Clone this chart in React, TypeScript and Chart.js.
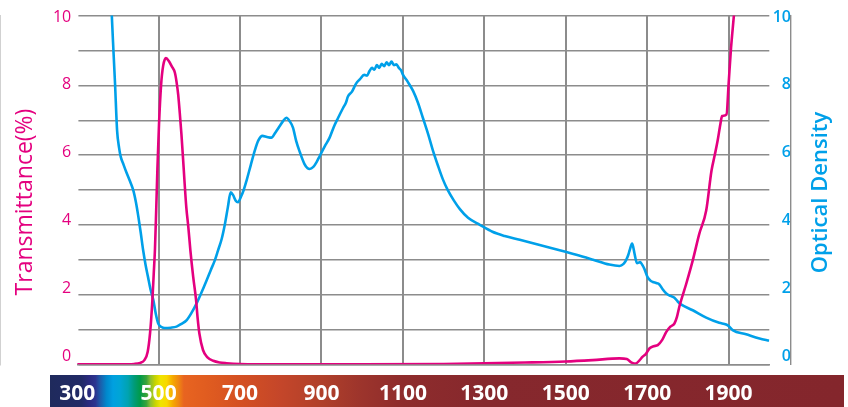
import React, { useEffect, useRef } from "react";
import { Chart, registerables } from "chart.js";

Chart.register(...registerables);

// ---- data ----
const transWavelengths = [300, 400, 440, 455, 465, 473, 479, 484, 488, 491, 494, 497, 501, 506, 511, 518, 525, 532, 540, 544, 548, 552, 556, 560, 564, 568, 573, 578, 585, 592, 596, 600, 609, 620, 634, 650, 667, 700, 800, 1000, 1200, 1400, 1500, 1566, 1632, 1650, 1662, 1672, 1680, 1689, 1697, 1706, 1716, 1726, 1737, 1747, 1757, 1767, 1773, 1779, 1796, 1812, 1828, 1845, 1858, 1866, 1873, 1880, 1884, 1895, 1900, 1906, 1913, 1920];
const transValues = [0, 0, 0.01, 0.04, 0.12, 0.35, 0.9, 1.7, 2.6, 3.3, 4.4, 5.6, 6.9, 8.0, 8.55, 8.78, 8.7, 8.55, 8.36, 8.1, 7.74, 7.2, 6.6, 5.9, 5.17, 4.5, 3.93, 3.27, 2.5, 1.84, 1.3, 0.89, 0.41, 0.2, 0.1, 0.05, 0.03, 0.01, 0, 0, 0.01, 0.05, 0.08, 0.12, 0.17, 0.15, 0.05, 0.02, 0.1, 0.22, 0.3, 0.46, 0.52, 0.55, 0.7, 0.93, 1.08, 1.17, 1.35, 1.65, 2.31, 2.98, 3.74, 4.41, 5.55, 6.0, 6.41, 6.9, 7.12, 7.17, 8.03, 9.07, 10, 11];

const odWavelengths = [378, 385, 389, 393, 398, 403, 407, 414, 421, 430, 438, 444, 450, 456, 462, 468, 474, 480, 487, 493, 499, 507, 515, 530, 544, 556, 569, 581, 593, 605, 618, 628, 638, 646, 655, 663, 670, 677, 683, 689, 695, 702, 709, 716, 726, 736, 745, 755, 766, 777, 787, 798, 806, 814, 822, 830, 838, 847, 858, 866, 871, 880, 888, 896, 908, 920, 930, 941, 953, 960, 965, 975, 985, 994, 1005, 1012, 1018, 1024, 1030, 1036, 1042, 1048, 1054, 1060, 1066, 1072, 1078, 1084, 1090, 1096, 1100, 1112, 1125, 1137, 1149, 1162, 1174, 1186, 1198, 1210, 1225, 1240, 1260, 1289, 1320, 1350, 1387, 1436, 1485, 1526, 1567, 1607, 1632, 1642, 1648, 1654, 1657, 1663, 1666, 1669, 1675, 1683, 1688, 1693, 1701, 1708, 1714, 1722, 1730, 1738, 1747, 1757, 1767, 1775, 1783, 1812, 1845, 1877, 1894, 1902, 1910, 1943, 1976, 2000];
const odValues = [12, 10, 9.0, 8.03, 6.7, 6.2, 5.95, 5.72, 5.5, 5.24, 4.98, 4.66, 4.25, 3.78, 3.27, 2.85, 2.5, 2.15, 1.84, 1.45, 1.17, 1.07, 1.04, 1.05, 1.08, 1.16, 1.27, 1.48, 1.74, 2.05, 2.41, 2.7, 2.98, 3.27, 3.6, 4.03, 4.5, 4.93, 4.85, 4.7, 4.65, 4.8, 5.0, 5.27, 5.7, 6.12, 6.42, 6.55, 6.52, 6.5, 6.65, 6.84, 6.98, 7.07, 6.97, 6.79, 6.4, 6.08, 5.75, 5.62, 5.6, 5.66, 5.8, 5.98, 6.25, 6.5, 6.8, 7.07, 7.35, 7.5, 7.68, 7.82, 8.05, 8.17, 8.3, 8.28, 8.41, 8.5, 8.45, 8.58, 8.5, 8.62, 8.55, 8.66, 8.58, 8.68, 8.58, 8.6, 8.5, 8.42, 8.31, 8.1, 7.84, 7.5, 7.07, 6.6, 6.12, 5.7, 5.31, 5.0, 4.7, 4.45, 4.2, 4.0, 3.8, 3.68, 3.57, 3.42, 3.27, 3.14, 3.0, 2.86, 2.82, 2.88, 2.98, 3.15, 3.27, 3.46, 3.35, 3.17, 2.9, 2.93, 2.85, 2.74, 2.5, 2.4, 2.36, 2.33, 2.29, 2.15, 2.03, 1.96, 1.91, 1.8, 1.72, 1.55, 1.34, 1.19, 1.14, 1.08, 0.98, 0.86, 0.74, 0.68];

const wavelengthTicks = [300, 500, 700, 900, 1100, 1300, 1500, 1700, 1900];
const leftTicks = [0, 2, 4, 6, 8, 10];
const rightTicks = [0, 2, 4, 6, 8, 10];
const leftTitle = "Transmittance(%)";
const rightTitle = "Optical Density";

// ---- style ----
const MAGENTA = "#e4007f";
const CYAN = "#00a0e9";
const GRID = "#8c8c8c";

const spectrumStops: [number, string][] = [
  [233, "#1f2a5c"], [310, "#212a66"], [330, "#2a2a80"], [345, "#2c3590"], [356, "#1e5aa8"],
  [372, "#0088cc"], [388, "#00a0e0"], [405, "#00a5d5"], [425, "#00a3b0"], [440, "#009b78"],
  [455, "#009a48"], [470, "#3aa33a"], [480, "#8cc030"], [492, "#c8d400"], [505, "#f0e400"],
  [520, "#f8d800"], [535, "#f5a800"], [548, "#f08a10"], [562, "#e86420"], [620, "#e05c20"],
  [700, "#d45022"], [800, "#c4462a"], [900, "#b0402a"], [1000, "#9c342c"], [1100, "#8e2c2c"],
  [1300, "#86282d"], [2183, "#84262c"],
];

const decorPlugin = {
  id: "decor",
  beforeDraw(chart: any) {
    const { ctx } = chart;
    const xs = chart.scales.x;
    const x0 = 50, x1 = 844, y0 = 375, y1 = 407;
    const g = ctx.createLinearGradient(x0, 0, x1, 0);
    for (const [wl, c] of spectrumStops) {
      const p = xs.getPixelForValue(wl);
      g.addColorStop(Math.min(1, Math.max(0, (p - x0) / (x1 - x0))), c);
    }
    ctx.save();
    ctx.fillStyle = g;
    ctx.fillRect(x0, y0, x1 - x0, y1 - y0);
    ctx.restore();
  },
  afterDraw(chart: any) {
    const { ctx } = chart;
    ctx.save();
    ctx.textAlign = "center";
    ctx.textBaseline = "middle";
    ctx.translate(25, 202);
    ctx.rotate(-Math.PI / 2);
    ctx.fillStyle = MAGENTA;
    ctx.font = "400 23px 'Open Sans'";
    ctx.fillText(leftTitle, 0, 0);
    ctx.restore();
    ctx.save();
    ctx.textAlign = "center";
    ctx.textBaseline = "middle";
    ctx.translate(821, 192.5);
    ctx.rotate(-Math.PI / 2);
    ctx.fillStyle = CYAN;
    ctx.font = "600 22px 'Open Sans'";
    ctx.fillText(rightTitle, 0, 0);
    ctx.restore();
  },
};

const plainLabel = (v: any) => String(v);

export default function App() {
  const ref = useRef<HTMLCanvasElement>(null);
  useEffect(() => {
    const canvas = ref.current!;
    const transData = transWavelengths.map((x, i) => ({ x, y: transValues[i] }));
    const odData = odWavelengths.map((x, i) => ({ x, y: odValues[i] }));
    const chart = new Chart(canvas, {
      type: "line",
      data: {
        datasets: [
          {
            label: "Transmittance",
            data: transData,
            borderColor: MAGENTA,
            borderWidth: 2.6,
            pointRadius: 0,
            cubicInterpolationMode: "monotone",
            yAxisID: "y",
          },
          {
            label: "Optical Density",
            data: odData,
            borderColor: CYAN,
            borderWidth: 2.6,
            pointRadius: 0,
            cubicInterpolationMode: "monotone",
            yAxisID: "y2",
          },
        ],
      },
      options: {
        animation: false,
        responsive: false,
        devicePixelRatio: 1,
        layout: { padding: { top: 14.3, left: 0, right: 57, bottom: 0 } },
        plugins: { legend: { display: false }, tooltip: { enabled: false } },
        scales: {
          x: {
            type: "linear",
            position: "bottom",
            min: 300,
            max: 2000,
            afterBuildTicks: (axis: any) => {
              axis.ticks = wavelengthTicks.map((v) => ({ value: v }));
            },
            afterFit: (axis: any) => {
              axis.height = 42.7;
            },
            grid: {
              color: (c: any) => (c.tick && c.tick.value === 300 ? "rgba(0,0,0,0)" : GRID),
              lineWidth: 2,
              drawTicks: false,
            },
            border: { display: true, color: GRID, width: 1.4 },
            ticks: {
              autoSkip: false,
              maxRotation: 0,
              color: "#ffffff",
              padding: 17,
              callback: plainLabel,
              font: { family: "'Open Sans'", size: 21, weight: 700 },
            },
          },
          yl: {
            type: "linear",
            position: "left",
            min: -0.238,
            max: 10.044,
            afterBuildTicks: (axis: any) => {
              axis.ticks = leftTicks.map((v) => ({ value: v }));
            },
            afterFit: (axis: any) => {
              axis.width = 77.2;
            },
            grid: { display: false, drawTicks: false },
            border: { display: false },
            ticks: {
              color: MAGENTA,
              padding: 6,
              callback: plainLabel,
              font: { family: "'Open Sans'", size: 16, weight: 500 },
            },
          },
          y: {
            type: "linear",
            position: "left",
            min: 0,
            max: 10,
            afterFit: (axis: any) => {
              axis.width = 0;
            },
            grid: { color: GRID, lineWidth: 1.4, drawTicks: false },
            border: { display: true, color: GRID, width: 1.4 },
            ticks: { display: false, stepSize: 1 },
          },
          yr: {
            type: "linear",
            position: "right",
            min: -0.238,
            max: 10.044,
            afterBuildTicks: (axis: any) => {
              axis.ticks = rightTicks.map((v) => ({ value: v }));
            },
            afterFit: (axis: any) => {
              axis.width = 21.7;
            },
            grid: { display: false, drawTicks: false },
            border: { display: false },
            ticks: {
              color: CYAN,
              padding: 5,
              crossAlign: "far",
              callback: plainLabel,
              font: { family: "'Open Sans'", size: 16, weight: 600 },
            },
          },
          y2: {
            type: "linear",
            position: "right",
            min: 0,
            max: 10,
            afterFit: (axis: any) => {
              axis.width = 0;
            },
            grid: { display: false, drawTicks: false },
            border: { display: true, color: GRID, width: 1.4 },
            ticks: { display: false },
          },
        },
      } as any,
      plugins: [decorPlugin],
    });
    return () => chart.destroy();
  }, []);
  return (
    <div style={{ position: "fixed", left: 0, top: 0, width: 848, height: 407, background: "#ffffff" }}>
      <canvas ref={ref} width={848} height={407} style={{ display: "block", width: 848, height: 407 }} />
    </div>
  );
}
